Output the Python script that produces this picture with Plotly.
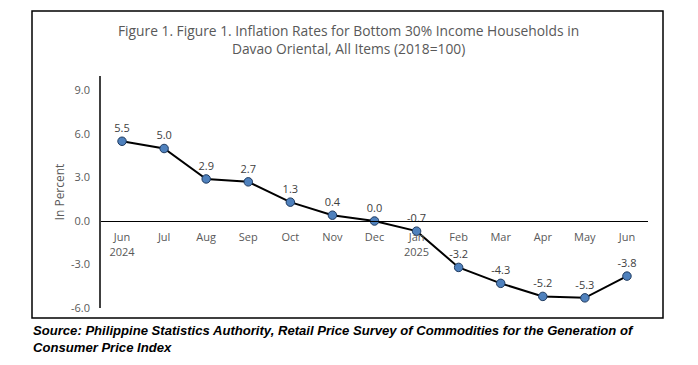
import plotly.graph_objects as go

categories = ["Jun<br>2024", "Jul", "Aug", "Sep", "Oct", "Nov", "Dec",
              "Jan<br>2025", "Feb", "Mar", "Apr", "May", "Jun"]
values = [5.5, 5.0, 2.9, 2.7, 1.3, 0.4, 0.0, -0.7, -3.2, -4.3, -5.2, -5.3, -3.8]
value_labels = ["5.5", "5.0", "2.9", "2.7", "1.3", "0.4", "0.0", "-0.7",
                "-3.2", "-4.3", "-5.2", "-5.3", "-3.8"]
y_ticks = [-6, -3, 0, 3, 6, 9]
y_tick_labels = ["-6.0", "-3.0", "0.0", "3.0", "6.0", "9.0"]

title_text = ("Figure 1. Figure 1. Inflation Rates for Bottom 30% Income Households in"
              "<br>Davao Oriental, All Items (2018=100)")
source_lines = ["Source: Philippine Statistics Authority, Retail Price Survey of Commodities for the Generation of",
                "Consumer Price Index"]

Y_MIN, Y_MAX = -6, 10
FONT = "Open Sans"
GREY = "#595959"

# page body has an 8px margin: figure spans page pixels 8..698 x 8..365
OFF = 8
W, H = 698 - OFF, 365 - OFF
PL, PR, PT, PB = 101 - OFF, 648 - OFF, 76 - OFF, 308 - OFF  # plot area in figure px
PW, PH = PR - PL, PB - PT


def px(xp):
    return (xp - OFF - PL) / PW


def py(yp):
    return (PB - (yp - OFF)) / PH


fig = go.Figure()
fig.add_trace(go.Scatter(
    x=list(range(len(categories))), y=values,
    mode="lines+markers+text",
    text=value_labels, textposition="top center",
    textfont=dict(family=FONT, size=11, color="#404040"),
    line=dict(color="black", width=2),
    marker=dict(size=8.5, color="#4F81BD", line=dict(color="#1F3A5F", width=1)),
    cliponaxis=False, hoverinfo="skip", showlegend=False,
))

zero_pos = (0 - Y_MIN) / (Y_MAX - Y_MIN)

fig.update_layout(
    width=W, height=H,
    margin=dict(l=PL, r=W - PR, t=PT, b=H - PB),
    paper_bgcolor="white", plot_bgcolor="white",
    font=dict(family=FONT, color=GREY),
    xaxis=dict(
        range=[-0.5, len(categories) - 0.5],
        tickmode="array", tickvals=list(range(len(categories))), ticktext=categories,
        showgrid=False, zeroline=False, showline=True, linecolor="black", linewidth=1,
        anchor="free", position=zero_pos, ticks="", ticklabelstandoff=6,
        tickfont=dict(family=FONT, size=11, color=GREY),
    ),
    yaxis=dict(
        range=[Y_MIN, Y_MAX],
        tickmode="array", tickvals=y_ticks, ticktext=y_tick_labels,
        showgrid=False, zeroline=False, showline=True, linecolor="#404040", linewidth=1.5,
        ticks="", ticklabelstandoff=7,
        tickfont=dict(family=FONT, size=11, color=GREY),
        title=dict(text="In Percent", font=dict(family=FONT, size=12, color=GREY), standoff=4),
    ),
)

# outer chart border
fig.add_shape(type="rect", xref="paper", yref="paper",
              x0=px(32), x1=px(663), y0=py(318), y1=py(11),
              line=dict(color="black", width=1.5), layer="below")

fig.add_annotation(text=title_text, xref="paper", yref="paper",
                   x=px(348), y=py(19),
                   xanchor="center", yanchor="top", showarrow=False, align="center",
                   font=dict(family=FONT, size=13.8, color=GREY))

fig.add_annotation(text="<br>".join("<b><i>" + s + "</i></b>" for s in source_lines),
                   xref="paper", yref="paper",
                   x=px(31), y=py(321),
                   xanchor="left", yanchor="top", showarrow=False, align="left",
                   font=dict(family="Liberation Sans", size=13.1, color="black"))

fig.write_html("out.html")
